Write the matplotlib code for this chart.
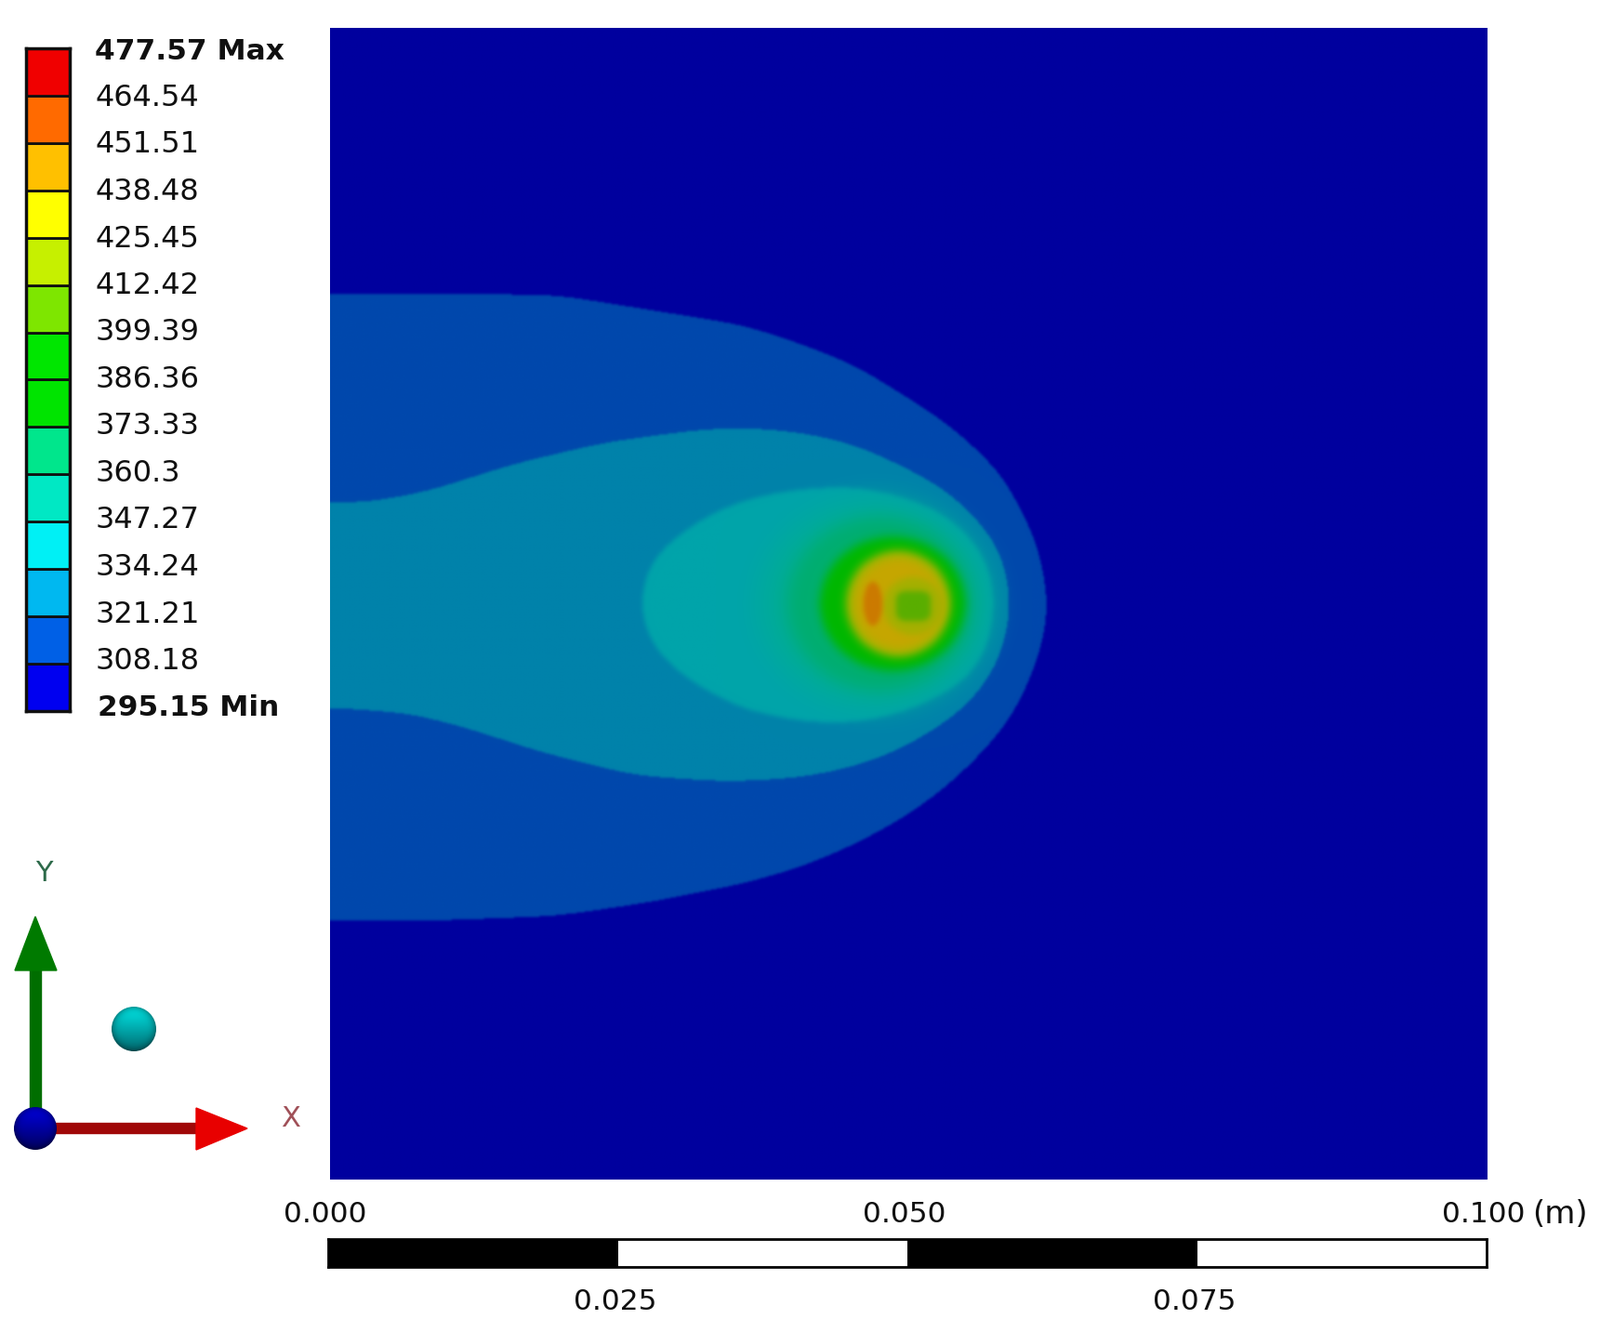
import numpy as np
import matplotlib
matplotlib.use('Agg')
import matplotlib.pyplot as plt
from matplotlib.colors import to_rgb
from matplotlib.path import Path
from matplotlib.patches import Circle, Polygon
from matplotlib.transforms import blended_transform_factory, offset_copy

W, H = 1721, 1433

# legend
levels = [295.15, 308.18, 321.21, 334.24, 347.27, 360.3, 373.33, 386.36, 399.39,
          412.42, 425.45, 438.48, 451.51, 464.54, 477.57]
band_colors = ['#0000f0', '#0060e6', '#00b8f0', '#00f0f5', '#00e8c4', '#00e68c', '#00e400',
               '#00e600', '#7ee600', '#c6f000', '#ffff00', '#ffc000', '#ff6a00', '#f00000']

# outlines, mm from the lower left corner of the domain
band1_x = [-8, 0, 11.8, 19.7, 27.7, 35.7, 40.6, 45.4, 48.6, 51.8, 54.5, 58, 59.8, 61.2, 62.1, 61.6, 60.6,
           58.8, 56.1, 52.9, 49.2, 45.1, 40.6, 35.7, 27.7, 19.7, 9.5, 0, -8]
band1_y = [76.9, 76.9, 76.9, 76.8, 75.5, 74.2, 72.6, 70.7, 68.7, 66.7, 64.7, 61.3, 58, 55, 50, 46.7, 43.7,
           40, 36.8, 33.8, 31.2, 29, 27.1, 25.7, 24.1, 22.9, 22.5, 22.5, 22.5]
band2_x = [-8, 0, 3.3, 8.6, 15.7, 23.7, 31.7, 35.7, 40.6, 45.1, 49.2, 53.2, 55.8, 58, 58.9, 58, 55.8, 53.2,
           49.2, 45.1, 40.6, 35.7, 33.3, 26.3, 18.3, 11.2, 6.8, 0, -8]
band2_y = [58.8, 58.8, 58.8, 59.8, 62.1, 64, 65.1, 65.3, 64.9, 63.9, 62.1, 59.9, 57.5, 54.6, 50, 45.4, 41.9, 39.7,
           37.3, 35.8, 34.9, 34.6, 34.6, 35.1, 37.1, 39.4, 40.5, 41, 41]
band3_x = [26.8, 27.2, 28.5, 31.2, 33.9, 35.7, 39.8, 45.1, 49.2, 53.2, 56.4, 57.4, 57.4, 56.6, 54.5, 50.5, 46, 41.1, 35.7, 31.7, 28.8, 27.2]
band3_y = [49.9, 52.8, 54.7, 56.8, 58.3, 59, 59.9, 60.2, 59.4, 57.8, 54.6, 51.3, 49.4, 45.4, 43, 40.9, 39.7, 39.7, 40.8, 42.9, 45.1, 47.5]

# hot spot: centre x, centre y, radius x, radius y (mm)
spot_cx = [47, 47.5, 48.6, 49.1, 49.1, 50.4, 50.4, 46.9]
spot_cy = [50, 50, 50, 50, 50, 49.8, 49.8, 50]
spot_rx = [10, 8, 6.27, 4.5, 3.8, 2.6, 1.5, 0.8]
spot_ry = [9, 7.5, 5.8, 4.6, 3.9, 2.5, 1.3, 1.9]
spot_pow = [2, 2, 2, 2, 2, 2, 4, 2]
spot_colors = ['#00ac98', '#00ae70', '#00b800', '#a8b400', '#c6a600', '#a4b000', '#5aae00', '#cc7a00']
spot_blur = [12, 7, 4, 4, 4, 3, 2.5, 2]

bg_color = '#00009e'
band1_color = '#0048ac'
band2_color = '#0082aa'
band3_color = '#00a4aa'

# scale bar
scale_ticks = [0.0, 0.025, 0.05, 0.075, 0.1]
scale_colors = ['black', 'white', 'black', 'white']
scale_upper = ['0.000', '0.050', '0.100']
scale_lower = ['0.025', '0.075']


def px_axes(fig, left, top, right, bottom):
    return fig.add_axes([left / W, 1 - bottom / H, (right - left) / W, (bottom - top) / H])


def smooth(x, y, step=0.25, win=13):
    # resample the closed outline evenly, then average along it
    px = np.r_[x, x[0]]
    py = np.r_[y, y[0]]
    d = np.r_[0, np.cumsum(np.hypot(np.diff(px), np.diff(py)))]
    s = np.arange(0, d[-1], step)
    sx, sy = np.interp(s, d, px), np.interp(s, d, py)
    k = np.ones(win) / win
    for _ in range(3):
        sx = np.convolve(np.r_[sx[-win:], sx, sx[:win]], k, mode='same')[win:-win]
        sy = np.convolve(np.r_[sy[-win:], sy, sy[:win]], k, mode='same')[win:-win]
    return np.column_stack([sx, sy])


def blur(a, sigma):
    r = int(3 * sigma)
    k = np.exp(-0.5 * (np.arange(-r, r + 1) / sigma) ** 2)
    k /= k.sum()
    a = np.pad(a, r, mode='edge')
    a = np.apply_along_axis(lambda v: np.convolve(v, k, mode='same'), 0, a)
    a = np.apply_along_axis(lambda v: np.convolve(v, k, mode='same'), 1, a)
    return a[r:-r, r:-r]


def sphere(ax, cx, cy, r, top, bottom):
    v, u = np.mgrid[-1:1:64j, -1:1:64j]
    t = ((v + 1) / 2)[:, :, None]
    shade = (1 - 0.35 * np.clip(u ** 2 + v ** 2, 0, 1) ** 3)[:, :, None]
    img = ((1 - t) * np.array(to_rgb(top)) + t * np.array(to_rgb(bottom))) * shade
    im = ax.imshow(img, extent=[cx - r, cx + r, cy + r, cy - r], aspect='auto', zorder=3)
    im.set_clip_path(Circle((cx, cy), r, transform=ax.transData))


plt.rcParams['font.family'] = ['DejaVu Sans']
fig = plt.figure(figsize=(W / 100, H / 100), dpi=100, facecolor='white')

# field
ax = px_axes(fig, 355, 30, 1600, 1269)
nx, ny = 1000, 1000
xs = (np.arange(nx) + 0.5) * 100.0 / nx
ys = (np.arange(ny) + 0.5) * 100.0 / ny
gx, gy = np.meshgrid(xs, ys)
grid = np.column_stack([gx.ravel(), gy.ravel()])
img = np.ones((ny, nx, 3)) * np.array(to_rgb(bg_color))

layers = [(band1_x, band1_y, band1_color, 1.0),
          (band2_x, band2_y, band2_color, 1.0),
          (band3_x, band3_y, band3_color, 2.0)]
for lx, ly, col, s in layers:
    mask = Path(smooth(lx, ly)).contains_points(grid).reshape(ny, nx).astype(float)
    mask = blur(mask, s)[:, :, None]
    img = img * (1 - mask) + np.array(to_rgb(col)) * mask
for cx, cy, rx, ry, p, col, s in zip(spot_cx, spot_cy, spot_rx, spot_ry, spot_pow, spot_colors, spot_blur):
    mask = (np.abs((gx - cx) / rx) ** p + np.abs((gy - cy) / ry) ** p <= 1).astype(float)
    mask = blur(mask, s)[:, :, None]
    img = img * (1 - mask) + np.array(to_rgb(col)) * mask

ax.imshow(img, origin='lower', extent=[0, 100, 0, 100], aspect='auto', interpolation='bilinear')
ax.set_axis_off()

# legend bar
leg = px_axes(fig, 28, 52, 75, 765)
leg.bar(0.5, np.diff(levels), bottom=levels[:-1], width=1, color=band_colors, edgecolor='#101010', linewidth=2)
leg.set_xlim(0, 1)
leg.set_ylim(levels[0], levels[-1])
leg.set_xticks([])
leg.set_yticks([])
for s in leg.spines.values():
    s.set_linewidth(2.5)
    s.set_color('#101010')

tr = blended_transform_factory(fig.transFigure, leg.transData)
for v in levels:
    if v == levels[-1]:
        txt, weight, x, size = '%g Max' % v, 'bold', 102, 22.5
    elif v == levels[0]:
        txt, weight, x, size = '%g Min' % v, 'bold', 105, 22.5
    else:
        txt, weight, x, size = '%g' % v, 'normal', 103, 23
    dy = 6 * (levels[-1] - v) / (levels[-1] - levels[0]) - 3
    fig.text(x / W, v, txt, transform=offset_copy(tr, fig=fig, y=dy, units='dots'), fontsize=size,
             fontweight=weight, va='center', ha='left', color='#101010')

# scale bar
sb = px_axes(fig, 353, 1333, 1599, 1363)
sb.bar(scale_ticks[:-1], 1, width=np.diff(scale_ticks), align='edge', color=scale_colors)
sb.set_xlim(scale_ticks[0], scale_ticks[-1])
sb.set_ylim(0, 1)
sb.set_xticks([])
sb.set_yticks([])
for s in sb.spines.values():
    s.set_linewidth(2)
for t, lab in zip(scale_ticks[::2], scale_upper):
    sb.annotate(lab, (t, 1), xytext=(-3, 12), xycoords=('data', 'axes fraction'), textcoords='offset pixels',
                ha='center', va='bottom', fontsize=22.5, color='#101010', annotation_clip=False)
for t, lab in zip(scale_ticks[1::2], scale_lower):
    sb.annotate(lab, (t, 0), xytext=(-3, -23), xycoords=('data', 'axes fraction'), textcoords='offset pixels',
                ha='center', va='top', fontsize=22.5, color='#101010', annotation_clip=False)
sb.annotate('(m)', (0.1, 1), xytext=(49, 10), xycoords=('data', 'axes fraction'), textcoords='offset pixels',
            ha='left', va='bottom', fontsize=24.5, color='#101010', annotation_clip=False)

# triad, figure pixels
tri = px_axes(fig, 0, 0, W, H)
tri.set_xlim(0, W)
tri.set_ylim(H, 0)
tri.set_axis_off()
tri.patch.set_alpha(0)
tri.add_patch(Polygon([[32, 1213], [44, 1213], [44, 1040], [32, 1040]], color='#006e00', zorder=1))
tri.add_patch(Polygon([[38, 986], [16, 1044], [61, 1044]], color='#007a00', zorder=2))
tri.add_patch(Polygon([[55, 1208], [215, 1208], [215, 1219], [55, 1219]], color='#a00808', zorder=1))
tri.add_patch(Polygon([[211, 1192], [266, 1214], [211, 1237]], color='#e80000', zorder=2))
sphere(tri, 38, 1214, 23, '#0000e0', '#000060')
sphere(tri, 144, 1107, 24, '#00e8e8', '#006a70')
tri.text(47, 939, 'Y', color='#2d6a4a', fontsize=22, ha='center', va='center')
tri.text(313, 1203, 'X', color='#a05058', fontsize=22, ha='center', va='center')
tri.set_xlim(0, W)
tri.set_ylim(H, 0)

fig.savefig('out.png', dpi=100, facecolor='white')
